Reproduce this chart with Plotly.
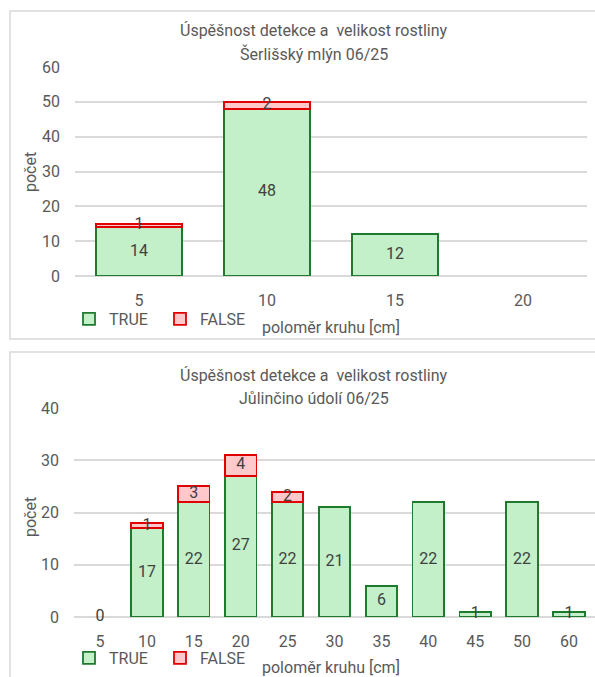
import plotly.graph_objects as go

# ---- data ----
cats_top = ["5", "10", "15", "20"]
true_top = [14, 48, 12, None]
false_top = [1, 2, None, None]

cats_bot = ["5", "10", "15", "20", "25", "30", "35", "40", "45", "50", "60"]
true_bot = [0, 17, 22, 27, 22, 21, 6, 22, 1, 22, 1]
false_bot = [None, 1, 3, 4, 2, None, None, None, None, None, None]

title_top = ["Úspěšnost detekce a  velikost rostliny", "Šerlišský mlýn 06/25"]
title_bot = ["Úspěšnost detekce a  velikost rostliny", "Jůlinčino údolí 06/25"]
x_title = "poloměr kruhu [cm]"
y_title = "počet"

W, H = 595, 677
FONT = "Roboto"
TXT = "#595959"
LBL = "#404040"
G_FILL, G_LINE = "#c3f0c8", "#1e7b2e"
R_FILL, R_LINE = "#ffc9cc", "#e00000"


def px(x):
    return x / W


def py(y):
    return (H - y) / H


fig = go.Figure()


def add_chart(cats, tv, fv, xa, ya, leg):
    # zero-height segments are not drawn as bars (only their label is shown)
    tb = [v if v else None for v in tv]
    fb = [v if v else None for v in fv]
    fig.add_trace(go.Bar(x=cats, y=tb, name="TRUE", xaxis=xa, yaxis=ya,
                         marker=dict(color=G_FILL, line=dict(color=G_LINE, width=1.8)),
                         legend=leg))
    fig.add_trace(go.Bar(x=cats, y=fb, name="FALSE", xaxis=xa, yaxis=ya,
                         marker=dict(color=R_FILL, line=dict(color=R_LINE, width=1.8)),
                         legend=leg))
    # labels centred on each segment
    tx, ty, tt = [], [], []
    for c, t in zip(cats, tv):
        if t is not None:
            tx.append(c); ty.append(t / 2); tt.append(str(t))
    for c, t, f in zip(cats, tv, fv):
        if f is not None:
            tx.append(c); ty.append((t or 0) + f / 2); tt.append(str(f))
    fig.add_trace(go.Scatter(x=tx, y=ty, text=tt, mode="text", xaxis=xa, yaxis=ya,
                             textfont=dict(family=FONT, size=16, color=LBL),
                             showlegend=False, cliponaxis=False, hoverinfo="skip"))


add_chart(cats_top, true_top, false_top, "x", "y", "legend")
add_chart(cats_bot, true_bot, false_bot, "x2", "y2", "legend2")

xaxis_common = dict(showgrid=False, showline=False, ticks="outside", tickcolor="rgba(0,0,0,0)",
                    ticklen=10, tickfont=dict(family=FONT, size=16, color=TXT), automargin=False)
yaxis_common = dict(showgrid=True, gridcolor="#d9d9d9", gridwidth=1.5,
                    zeroline=True, zerolinecolor="#d9d9d9", zerolinewidth=1.5,
                    showline=False, ticks="", ticklabelstandoff=14, automargin=False,
                    tickfont=dict(family=FONT, size=16, color=TXT))

legend_common = dict(orientation="h", xanchor="left", yanchor="middle",
                     xref="container", yref="container",
                     font=dict(family=FONT, size=16, color=TXT), itemwidth=30,
                     entrywidth=46, tracegroupgap=0, bgcolor="rgba(0,0,0,0)",
                     traceorder="normal")

fig.update_layout(
    width=W, height=H, margin=dict(l=0, r=0, t=0, b=0, autoexpand=False),
    paper_bgcolor="white", plot_bgcolor="white",
    barmode="stack", bargap=0.33,
    font=dict(family=FONT, color=TXT),
    xaxis=dict(domain=[px(75), px(587)], anchor="y", type="category", **xaxis_common),
    yaxis=dict(domain=[py(276), py(67)], anchor="x", range=[0, 60], dtick=10, **yaxis_common),
    xaxis2=dict(domain=[px(74), 1.0], anchor="y2", type="category", **xaxis_common),
    yaxis2=dict(domain=[py(617), py(408)], anchor="x2", range=[0, 40], dtick=10, **yaxis_common),
    legend=dict(x=px(69), y=py(319), **legend_common),
    legend2=dict(x=px(69), y=py(658), **legend_common),
    showlegend=True,
)

ann = []
for (lines, y1, y2) in [(title_top, 31, 54), (title_bot, 375, 398)]:
    for txt, yy in ((lines[0], y1), (lines[1], y2)):
        ann.append(dict(text=txt, x=px(314), y=py(yy), xref="paper", yref="paper",
                        xanchor="center", yanchor="middle", showarrow=False,
                        font=dict(family=FONT, size=16, color=TXT)))
for yc in (327, 667):
    ann.append(dict(text=x_title, x=px(331), y=py(yc), xref="paper", yref="paper",
                    xanchor="center", yanchor="middle", showarrow=False,
                    font=dict(family=FONT, size=16, color=TXT)))
for yc in (172, 517):
    ann.append(dict(text=y_title, x=px(30), y=py(yc), xref="paper", yref="paper",
                    xanchor="center", yanchor="middle", textangle=-90, showarrow=False,
                    font=dict(family=FONT, size=16, color=TXT)))
fig.update_layout(annotations=ann)

fig.update_layout(shapes=[
    dict(type="rect", xref="paper", yref="paper", x0=px(10), x1=px(610), y0=py(339), y1=py(11),
         line=dict(color="#d9d9d9", width=1.5), layer="below"),
    dict(type="rect", xref="paper", yref="paper", x0=px(10), x1=px(610), y0=py(690), y1=py(352),
         line=dict(color="#d9d9d9", width=1.5), layer="below"),
])

fig.write_html("out.html")
